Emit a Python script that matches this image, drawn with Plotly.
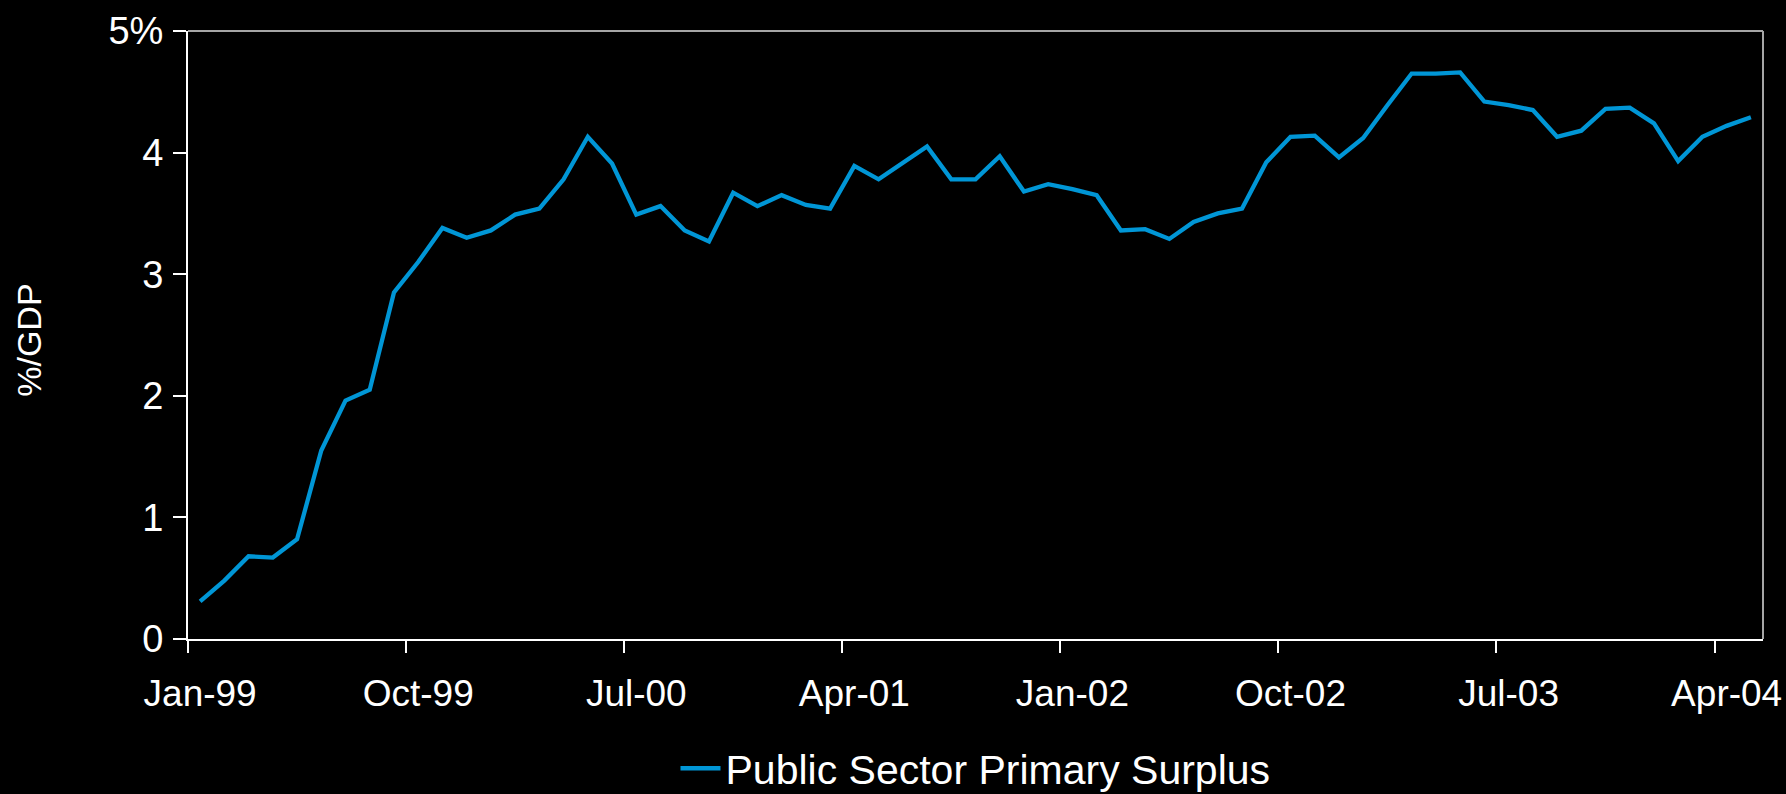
import plotly.graph_objects as go

# Monthly series, Jan-99 .. May-04 (% of GDP, 12-month rolling)
months = [
    "Jan-99", "Feb-99", "Mar-99", "Apr-99", "May-99", "Jun-99", "Jul-99", "Aug-99", "Sep-99", "Oct-99", "Nov-99", "Dec-99",
    "Jan-00", "Feb-00", "Mar-00", "Apr-00", "May-00", "Jun-00", "Jul-00", "Aug-00", "Sep-00", "Oct-00", "Nov-00", "Dec-00",
    "Jan-01", "Feb-01", "Mar-01", "Apr-01", "May-01", "Jun-01", "Jul-01", "Aug-01", "Sep-01", "Oct-01", "Nov-01", "Dec-01",
    "Jan-02", "Feb-02", "Mar-02", "Apr-02", "May-02", "Jun-02", "Jul-02", "Aug-02", "Sep-02", "Oct-02", "Nov-02", "Dec-02",
    "Jan-03", "Feb-03", "Mar-03", "Apr-03", "May-03", "Jun-03", "Jul-03", "Aug-03", "Sep-03", "Oct-03", "Nov-03", "Dec-03",
    "Jan-04", "Feb-04", "Mar-04", "Apr-04", "May-04",
]

primary_surplus = [
    0.31, 0.48, 0.68, 0.67, 0.82, 1.55, 1.96, 2.05, 2.85, 3.10, 3.38, 3.30,
    3.36, 3.49, 3.54, 3.78, 4.13, 3.91, 3.49, 3.56, 3.36, 3.27, 3.67, 3.56,
    3.65, 3.57, 3.54, 3.89, 3.78, 3.91, 4.05, 3.78, 3.78, 3.97, 3.68, 3.74,
    3.70, 3.65, 3.36, 3.37, 3.29, 3.43, 3.50, 3.54, 3.92, 4.13, 4.14, 3.96,
    4.12, 4.39, 4.65, 4.65, 4.66, 4.42, 4.39, 4.35, 4.13, 4.18, 4.36, 4.37,
    4.24, 3.93, 4.13, 4.22, 4.29,
]

y_tick_values = [0, 1, 2, 3, 4, 5]
y_tick_labels = ["0", "1", "2", "3", "4", "5%"]
label_step = 9  # one labelled month every 9 categories

FONT = "Arial, 'Liberation Sans', sans-serif"
LINE_BLUE = "#0096D6"

x_idx = list(range(len(months)))
label_idx = x_idx[::label_step]

fig = go.Figure()
fig.add_trace(go.Scatter(
    x=x_idx,
    y=primary_surplus,
    mode="lines",
    name="Public Sector Primary Surplus",
    line=dict(color=LINE_BLUE, width=4.3),
))

fig.update_layout(
    width=1786,
    height=794,
    paper_bgcolor="black",
    plot_bgcolor="black",
    margin=dict(l=188, r=23, t=31, b=155, autoexpand=False),
    font=dict(family=FONT, color="white", size=37),
    showlegend=True,
    legend=dict(
        orientation="h",
        xref="paper", x=0.5, xanchor="center",
        yref="container", y=0.032, yanchor="middle",
        font=dict(size=41, color="white"),
        bgcolor="rgba(0,0,0,0)",
        itemwidth=40,
    ),
    xaxis=dict(
        range=[-0.5, len(months) - 0.5],
        tickmode="array",
        tickvals=label_idx,
        ticktext=[months[i] for i in label_idx],
        ticks="",
        ticklabelstandoff=21,
        tickfont=dict(size=37, color="white"),
        showline=True, linecolor="white", linewidth=2,
        showgrid=False, zeroline=False,
        automargin=False,
        minor=dict(tick0=-0.5, dtick=label_step, ticks="outside",
                   ticklen=12, tickwidth=2, tickcolor="white", showgrid=False),
    ),
    yaxis=dict(
        range=[0, 5],
        tickmode="array",
        tickvals=y_tick_values,
        ticktext=y_tick_labels,
        ticks="outside", ticklen=13, tickwidth=2, tickcolor="white",
        ticklabelstandoff=2,
        tickfont=dict(size=38, color="white"),
        showline=True, linecolor="white", linewidth=2,
        showgrid=False, zeroline=False,
        automargin=False,
    ),
    shapes=[
        dict(type="line", xref="paper", yref="paper", x0=0, x1=1, y0=1, y1=1,
             line=dict(color="#a6a6a6", width=2)),
        dict(type="line", xref="paper", yref="paper", x0=1, x1=1, y0=0, y1=1,
             line=dict(color="#a6a6a6", width=2)),
    ],
    annotations=[
        dict(text="%/GDP", xref="paper", yref="paper",
             x=-0.101, y=0.492, xanchor="center", yanchor="middle",
             textangle=-90, showarrow=False,
             font=dict(size=34, color="white", family=FONT)),
    ],
)

fig.write_html("out.html")
